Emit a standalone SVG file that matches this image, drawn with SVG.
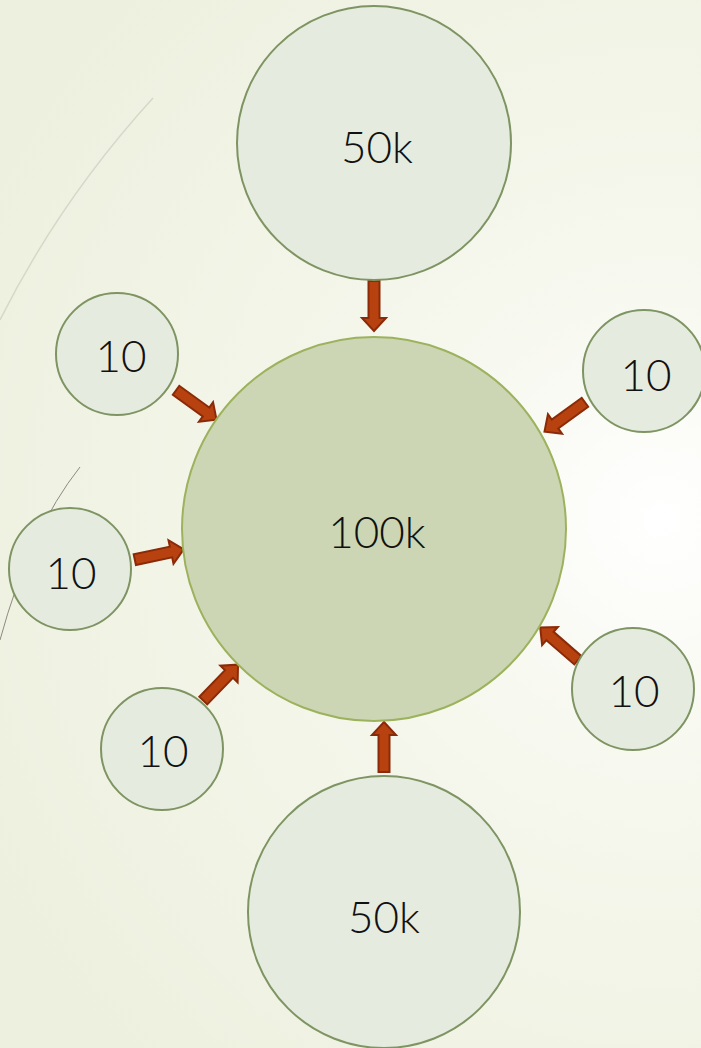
<svg xmlns="http://www.w3.org/2000/svg" width="701" height="1048" viewBox="0 0 701 1048">
<defs>
<radialGradient id="bg" cx="660" cy="520" r="760" gradientUnits="userSpaceOnUse">
<stop offset="0" stop-color="#FFFFFF"/>
<stop offset="0.3" stop-color="#F7F8EF"/>
<stop offset="1" stop-color="#EDF0DE"/>
</radialGradient>
<path id="arr" d="M0,-5.5 H-37 V5.5 H0 V12 L13,0 L0,-12 Z"/>
<style>
.sm{fill:#E6EBDF;stroke:#7E9462;stroke-width:2}
.big{fill:#CCD6B5;stroke:#9CB25C;stroke-width:2}
.t{font-family:"Lato","Liberation Sans",sans-serif;font-size:44px;font-weight:300;fill:#111;text-anchor:middle}
.a{fill:#B8420F;stroke:#8A2A08;stroke-width:2;stroke-linejoin:miter}
</style>
</defs>
<rect width="701" height="1048" fill="url(#bg)"/>
<path d="M153,98 Q60,200 0,320" fill="none" stroke="#D6D8C8" stroke-width="1.5"/>
<path d="M80,467 Q30,530 0,640" fill="none" stroke="#8E8A80" stroke-width="1"/>
<g id="connectors">
<use href="#arr" class="a" transform="translate(374,318) rotate(90)"/>
<use href="#arr" class="a" transform="translate(384,735) rotate(-90)"/>
<use href="#arr" class="a" transform="translate(206,412) rotate(36)"/>
<use href="#arr" class="a" transform="translate(555,424) rotate(144)"/>
<use href="#arr" class="a" transform="translate(171,552) rotate(-12)"/>
<use href="#arr" class="a" transform="translate(229,674) rotate(-46)"/>
<use href="#arr" class="a" transform="translate(550,636) rotate(-139)"/>
</g>
<g id="center"><circle class="big" cx="374" cy="529" r="192"/><text class="t" x="377" y="548">100k</text></g>
<g id="top50k"><circle class="sm" cx="374" cy="143" r="137"/><text class="t" x="377" y="163">50k</text></g>
<g id="bottom50k"><circle class="sm" cx="384" cy="912" r="136"/><text class="t" x="384" y="933">50k</text></g>
<g id="n1"><circle class="sm" cx="117" cy="354" r="61"/><text class="t" x="121" y="372">10</text></g>
<g id="n2"><circle class="sm" cx="70" cy="569" r="61"/><text class="t" x="71" y="589">10</text></g>
<g id="n3"><circle class="sm" cx="162" cy="749" r="61"/><text class="t" x="163" y="767">10</text></g>
<g id="n4"><circle class="sm" cx="644" cy="371" r="61"/><text class="t" x="646" y="391">10</text></g>
<g id="n5"><circle class="sm" cx="633" cy="689" r="61"/><text class="t" x="634" y="707">10</text></g>
</svg>
